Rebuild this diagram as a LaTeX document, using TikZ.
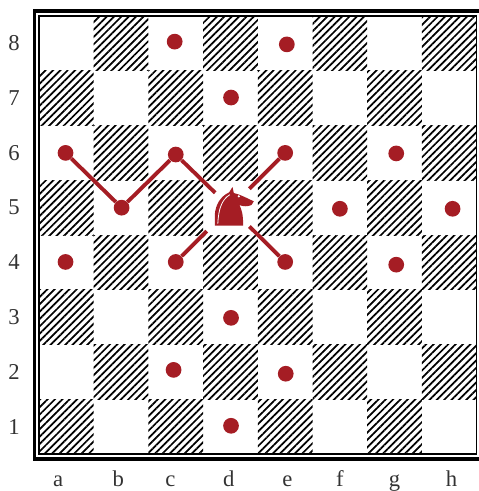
\documentclass[tikz,border=0pt]{standalone}
\usepackage{fontspec}
\setmainfont{Liberation Serif}
\usetikzlibrary{patterns.meta}
\definecolor{piecered}{HTML}{A51D24}
\tikzset{
	hatched/.style = {pattern = {Lines[angle=45,distance=3.9pt,line width=1.3pt]}, pattern color = black},
	spot/.style = {circle, fill = piecered, inner sep = 0pt, minimum size = 11.8pt},
	jump/.style = {draw = piecered, line width = 2.9pt},
	rank/.style = {font = \fontsize{17}{17}\selectfont, text = black!80},
}
\begin{document}
\begin{tikzpicture}[x=41.03pt,y=41.1pt]
	\useasboundingbox (-.713,-.670) rectangle (8.026,8.29);
	% board
	\foreach \x in {0,...,7}
		\foreach \y in {0,...,7}{
			\pgfmathtruncatemacro{\sumxy}{\x+\y}
			\ifodd\sumxy\else
				\fill[hatched] (\x,\y) rectangle ++(1,1);
			\fi
		}
	\draw[line width = 1.25pt] (0,0) rectangle (8,8);
	\draw[line width = 2.6pt] (-.08,-.086) rectangle (8.07,8.089);
	% labels
	\foreach \name/\y in {1/.5,2/1.5,3/2.5,4/3.5,5/4.5,6/5.5,7/6.5,8/7.5}
		\node[rank] (rank\name) at (-.457,\y) {\name};
	\foreach \name/\x in {a/.35,b/1.45,c/2.4,d/3.47,e/4.54,f/5.5,g/6.5,h/7.54}
		\node[rank, anchor = base] (file\name) at (\x,-.585) {\name};
	% squares reached
	\node[spot] (a6) at (.485,5.50) {};
	\node[spot] (b5) at (1.51,4.50) {};
	\node[spot] (c6) at (2.50,5.47) {};
	\node[spot] (e6) at (4.50,5.50) {};
	\node[spot] (c8) at (2.48,7.53) {};
	\node[spot] (e8) at (4.53,7.48) {};
	\node[spot] (d7) at (3.51,6.51) {};
	\node[spot] (g6) at (6.53,5.49) {};
	\node[spot] (f5) at (5.50,4.48) {};
	\node[spot] (h5) at (7.56,4.48) {};
	\node[spot] (a4) at (.485,3.51) {};
	\node[spot] (c4) at (2.50,3.51) {};
	\node[spot] (e4) at (4.50,3.51) {};
	\node[spot] (g4) at (6.53,3.46) {};
	\node[spot] (d3) at (3.51,2.49) {};
	\node[spot] (c2) at (2.46,1.54) {};
	\node[spot] (e2) at (4.51,1.47) {};
	\node[spot] (d1) at (3.51,0.52) {};
	\coordinate (knight) at (3.5,4.5);
	% jumps
	\draw[jump] (a6) -- (b5) -- (c6);
	\draw[jump, shorten > = 16pt] (c6) -- (knight);
	\draw[jump, shorten > = 20pt] (e6) -- (knight);
	\draw[jump, shorten > = 25pt] (c4) -- (knight);
	\draw[jump, shorten > = 20pt] (e4) -- (knight);
	% knight
	\begin{scope}[shift={(knight)},x=.25pt,y=-.25pt,shift={(-180,-174)}]
		\fill[piecered] (133,228) -- (133,195) .. controls (135,165) and (150,140) .. (176,128) -- (186,112) -- (190,130)
			.. controls (205,133) and (225,143) .. (250,155) -- (243,166) .. controls (232,171) and (218,171) .. (207,166)
			.. controls (213,180) and (218,190) .. (218,228) -- cycle;
		\draw[white, line width = .6pt] (142,222) .. controls (144,180) and (153,150) .. (178,135);
		\fill[white] (205,140) circle (3.5);
	\end{scope}
\end{tikzpicture}
\end{document}
